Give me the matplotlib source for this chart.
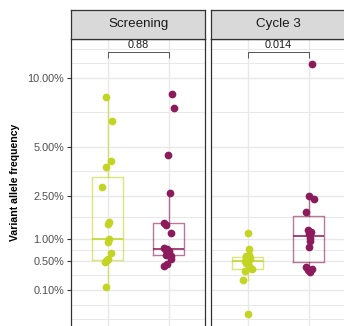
import numpy as np
import matplotlib
matplotlib.use("Agg")
import matplotlib.pyplot as plt
from matplotlib import cbook
from matplotlib.ticker import FixedLocator, NullLocator, FixedFormatter

plt.rcParams['font.family'] = ['Liberation Sans', 'DejaVu Sans']

# ---------------- data (percent) ----------------
panels = ["Screening", "Cycle 3"]
p_values = ["0.88", "0.014"]

screening_lime = [8.45, 6.68, 4.18, 3.89, 2.90, 1.50, 1.43, 1.00, 0.93, 0.65, 0.53, 0.52, 0.50, 0.48, 0.127]
screening_purple = [8.66, 7.64, 4.51, 2.62, 1.49, 1.40, 1.16, 0.78, 0.75, 0.73, 0.70, 0.65, 0.62, 0.60, 0.53, 0.45, 0.41]
cycle3_lime = [1.17, 0.74, 0.62, 0.60, 0.57, 0.55, 0.52, 0.50, 0.46, 0.41, 0.37, 0.35, 0.32, 0.20, 0.0]
cycle3_purple = [11.22, 2.49, 2.37, 1.86, 1.27, 1.19, 1.15, 1.03, 0.94, 0.80, 0.39, 0.36, 0.34, 0.31]

y_ticks = [0.1, 0.5, 1, 2.5, 5, 10]
y_tick_labels = ["0.10%", "0.50%", "1.00%", "2.50%", "5.00%", "10.00%"]

# horizontal jitter (category units)
jit_s_lime = [-0.033, 0.072, 0.05, -0.026, -0.10, 0.016, 0.01, 0.016, 0.007, 0.05, 0.0, -0.005, -0.03, -0.04, -0.03]
jit_s_purple = [0.056, 0.08, -0.016, 0.016, -0.08, -0.05, 0.03, -0.07, -0.02, -0.04, 0.01, 0.01, -0.05, 0.04, 0.04, -0.02, -0.075]
jit_c_lime = [0.0, 0.016, 0.02, -0.03, -0.03, 0.04, 0.016, -0.045, -0.03, 0.016, 0.04, 0.07, -0.05, -0.08, 0.0]
jit_c_purple = [0.06, 0.007, 0.09, -0.05, -0.016, 0.04, 0.01, 0.016, 0.016, 0.007, -0.05, 0.06, -0.016, 0.016]

panel_data = [
    [(screening_lime, jit_s_lime), (screening_purple, jit_s_purple)],
    [(cycle3_lime, jit_c_lime), (cycle3_purple, jit_c_purple)],
]

LIME = "#C3D522"
PURPLE = "#8C1B5B"
colors = [LIME, PURPLE]

# ---------------- sqrt scale ----------------
def fwd(v):
    v = np.asarray(v, dtype=float)
    return np.sign(v) * np.sqrt(np.abs(v))

def inv(s):
    s = np.asarray(s, dtype=float)
    return np.sign(s) * s ** 2

all_vals = np.concatenate([np.array(g[0]) for p in panel_data for g in p])
s_max = float(fwd(all_vals.max()))
s_min = float(fwd(all_vals.min()))
brk_top_s = s_max + 0.165
brk_tip_s = brk_top_s - 0.088
pad = 0.05 * (brk_top_s - s_min)
ylim = (float(inv(s_min - pad)), float(inv(brk_top_s + pad)))

# minor breaks as ggplot's regular_minor_breaks in transformed space
b = list(fwd(y_ticks))
bd = b[1] - b[0]
ext = [b[0] - bd] + b + [b[-1] + bd]
minor_s = []
for a, c in zip(ext[:-1], ext[1:]):
    minor_s += [a, (a + c) / 2]
minor_s.append(ext[-1])
minor_s = [m for m in minor_s if all(abs(m - mb) > 1e-9 for mb in b)]
minor_vals = list(inv(minor_s))

# ---------------- figure ----------------
W, H = 344, 326
fig = plt.figure(figsize=(W / 100, H / 100), dpi=100)

def px_axes(x0, y0, x1, y1):
    return fig.add_axes([x0 / W, (H - y1) / H, (x1 - x0) / W, (y1 - y0) / H])

panel_x = [(71.0, 205.3), (211.0, 345.3)]
top_px, bot_px = 38.5, 326.7
strip_top = 9.5

BORDER = "#333333"
GRID = "#E8E8E8"

for i, (pname, groups) in enumerate(zip(panels, panel_data)):
    x0, x1 = panel_x[i]
    ax = px_axes(x0, top_px, x1, bot_px)
    ax.set_yscale('function', functions=(fwd, inv))
    ax.set_ylim(*ylim)
    ax.set_xlim(-0.6, 1.6)
    ax.set_facecolor("white")

    ax.yaxis.set_major_locator(FixedLocator(y_ticks))
    ax.yaxis.set_minor_locator(FixedLocator(minor_vals))
    ax.xaxis.set_major_locator(FixedLocator([0, 1]))
    ax.xaxis.set_minor_locator(NullLocator())
    ax.grid(True, which='major', color=GRID, lw=1.0, zorder=0)
    ax.grid(True, which='minor', axis='y', color=GRID, lw=0.7, zorder=0)
    ax.set_axisbelow(True)
    ax.tick_params(axis='x', length=0, labelbottom=False)
    ax.tick_params(axis='y', which='minor', length=0)
    if i == 0:
        ax.yaxis.set_major_formatter(FixedFormatter(y_tick_labels))
        ax.tick_params(axis='y', which='major', length=3, width=0.8, color=BORDER,
                       labelsize=7.8, labelcolor="#4D4D4D", pad=2)
    else:
        ax.tick_params(axis='y', which='major', length=0, labelleft=False)
    for sp in ax.spines.values():
        sp.set_color(BORDER)
        sp.set_linewidth(0.9)

    for gi, ((vals, jit), col) in enumerate(zip(groups, colors)):
        st = cbook.boxplot_stats(fwd(vals), whis=1.5)[0]
        for k in ('med', 'q1', 'q3', 'whislo', 'whishi'):
            st[k] = float(inv(st[k]))
        ax.bxp([st], positions=[gi], widths=0.5, showfliers=False, showcaps=False,
               patch_artist=False,
               boxprops=dict(color=col, alpha=0.6, lw=1.0),
               whiskerprops=dict(color=col, alpha=0.6, lw=1.0),
               medianprops=dict(color=col, alpha=0.95, lw=1.2),
               manage_ticks=False, zorder=2)
        ax.scatter(gi + np.array(jit), vals, s=31, color=col, linewidths=0, zorder=3)

    # significance bracket
    top_v = float(inv(brk_top_s))
    tip_v = float(inv(brk_tip_s))
    ax.plot([0, 0, 1, 1], [tip_v, top_v, top_v, tip_v], color="#555555", lw=0.7,
            zorder=4, solid_capstyle='butt')
    ax.annotate(p_values[i], xy=(0.5, top_v), xytext=(0, 2.3), textcoords='offset points',
                ha='center', va='baseline', fontsize=7.8, color="#1A1A1A")

    # strip
    sax = px_axes(x0, strip_top, x1, top_px)
    sax.set_facecolor("#D9D9D9")
    sax.set_xticks([])
    sax.set_yticks([])
    for sp in sax.spines.values():
        sp.set_color(BORDER)
        sp.set_linewidth(0.9)
    sax.text(0.5, 0.5, pname, ha='center', va='center', fontsize=9.6, color="#1A1A1A",
             transform=sax.transAxes)

fig.text(15 / W, 1 - 182 / H, "Variant allele frequency", rotation=90, ha='center',
         va='center', fontsize=7.6, fontweight='bold', color="black")

fig.savefig("out.png", dpi=100)
